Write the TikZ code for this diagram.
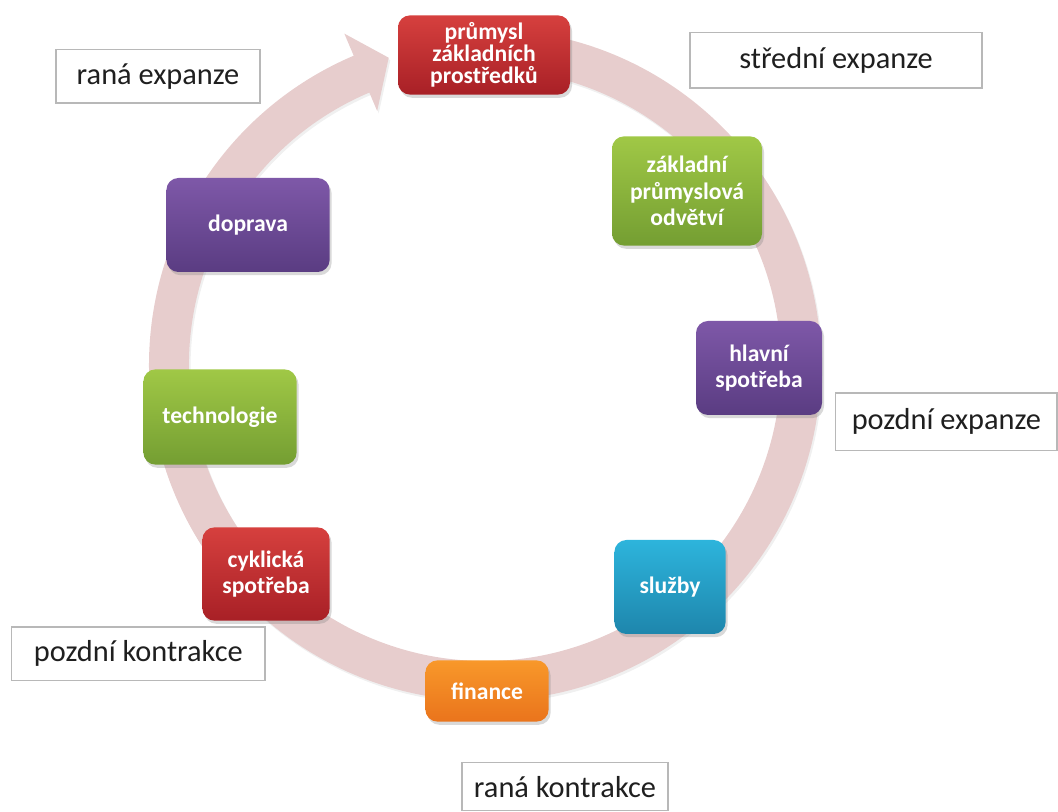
\documentclass[tikz,border=0pt]{standalone}
\usepackage{fontspec}
\setmainfont{Carlito}
\usepackage{xcolor}
\usepackage{tikz}
\usetikzlibrary{shadows}
\definecolor{ringpink}{RGB}{231,205,205}
\definecolor{redtop}{RGB}{214,64,62}
\definecolor{redbot}{RGB}{168,32,38}
\definecolor{greentop}{RGB}{160,200,70}
\definecolor{greenbot}{RGB}{116,158,50}
\definecolor{purpletop}{RGB}{126,88,168}
\definecolor{purplebot}{RGB}{90,60,130}
\definecolor{bluetop}{RGB}{45,180,220}
\definecolor{bluebot}{RGB}{30,134,172}
\definecolor{orangetop}{RGB}{248,152,42}
\definecolor{orangebot}{RGB}{234,116,28}
\tikzstyle{sector} = [rectangle, rounded corners=0.3cm, text=white, align=center, inner sep=2pt,
  font=\bfseries\fontsize{16.8}{18.8}\selectfont,
  drop shadow={opacity=0.3, shadow xshift=0.05cm, shadow yshift=-0.08cm}]
\tikzstyle{redbox} = [sector, top color=redtop, bottom color=redbot]
\tikzstyle{greenbox} = [sector, top color=greentop, bottom color=greenbot]
\tikzstyle{purplebox} = [sector, top color=purpletop, bottom color=purplebot]
\tikzstyle{bluebox} = [sector, top color=bluetop, bottom color=bluebot]
\tikzstyle{orangebox} = [sector, top color=orangetop, bottom color=orangebot]
\tikzstyle{phase} = [rectangle, draw=black!28, line width=0.8pt, fill=white, text=black!88,
  font=\fontsize{21.6}{24}\selectfont]

\begin{document}
\begin{tikzpicture}
    \useasboundingbox (0,0) rectangle (26.45,20.3);

    % cycle arrow
    \coordinate (c) at (12.125,11.175);
    \begin{scope}[shift={(c)}]
    \fill[ringpink, drop shadow={opacity=0.12, shadow xshift=0.04cm, shadow yshift=-0.06cm}]
        (85:8.4) arc[start angle=85, end angle=-247, radius=8.4]
        -- (-247:9.0) -- (-252.6:8.05) -- (-247:6.9) -- (-247:7.4)
        arc[start angle=-247, end angle=85, radius=7.4] -- cycle;
    \end{scope}

    % sectors
    \node (prum) [redbox, minimum width=4.3cm, minimum height=1.98cm,
        font=\bfseries\fontsize{16.8}{15.8}\selectfont] at (12.1,18.925)
        {průmysl\\základních\\prostředků};
    \node (zakl) [greenbox, minimum width=3.75cm, minimum height=2.73cm] at (17.175,15.525)
        {základní\\průmyslová\\odvětví};
    \node (hlav) [purplebox, minimum width=3.15cm, minimum height=2.35cm] at (18.975,11.1)
        {hlavní\\spotřeba};
    \node (sluz) [bluebox, minimum width=2.78cm, minimum height=2.35cm] at (16.75,5.625)
        {služby};
    \node (fin) [orangebox, minimum width=3.08cm, minimum height=1.53cm] at (12.175,3.025)
        {finance};
    \node (cykl) [redbox, minimum width=3.18cm, minimum height=2.33cm] at (6.65,5.95)
        {cyklická\\spotřeba};
    \node (tech) [greenbox, minimum width=3.83cm, minimum height=2.38cm] at (5.5,9.875)
        {technologie};
    \node (dopr) [purplebox, minimum width=4.08cm, minimum height=2.35cm] at (6.2,14.675)
        {doprava};

    % phases
    \node (ranaexp) [phase, minimum width=5.1cm, minimum height=1.33cm] at (3.95,18.39) {raná expanze};
    \node (strexp) [phase, minimum width=7.3cm, minimum height=1.38cm] at (20.9,18.79) {střední expanze};
    \node (pozexp) [phase, minimum width=5.53cm, minimum height=1.43cm] at (23.66,9.76) {pozdní expanze};
    \node (pozkon) [phase, minimum width=6.33cm, minimum height=1.33cm] at (3.46,3.96) {pozdní kontrakce};
    \node (ranakon) [phase, minimum width=5.15cm, minimum height=1.2cm] at (14.125,0.63) {raná kontrakce};
\end{tikzpicture}
\end{document}
